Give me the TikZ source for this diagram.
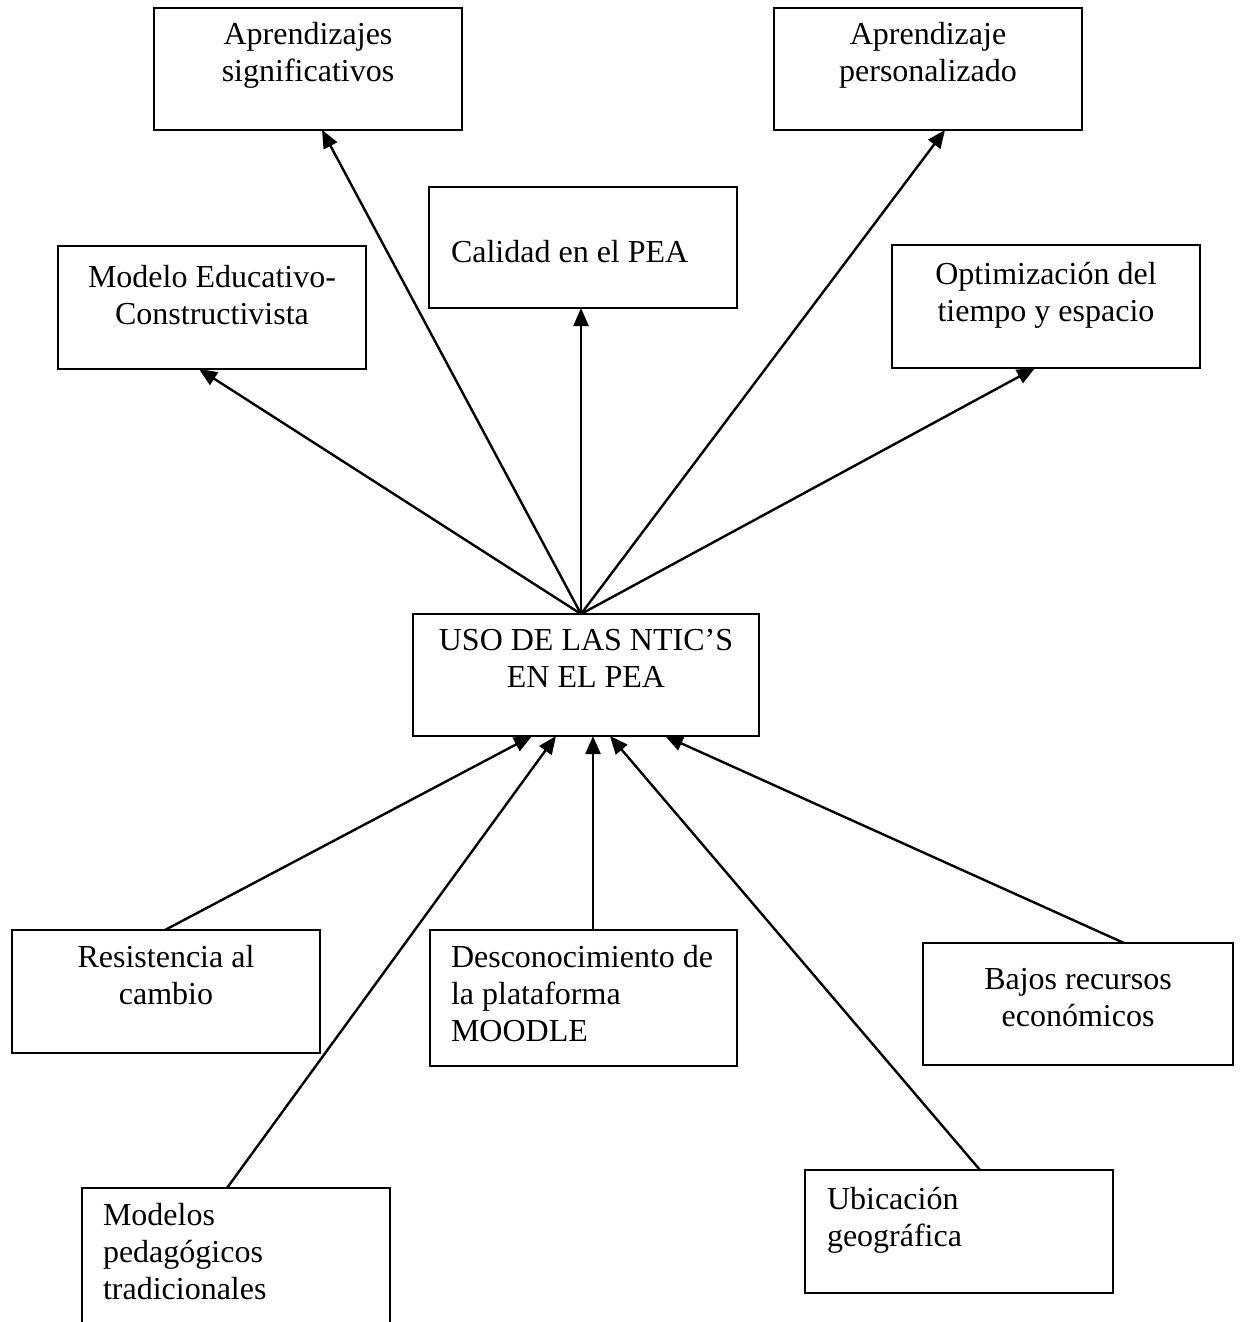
\documentclass[tikz,border=0pt]{standalone}
\usepackage{fontspec}
\setmainfont{Liberation Serif}
\usetikzlibrary{arrows.meta,calc}
\begin{document}
\begin{tikzpicture}[x=0.5pt,y=-0.5pt,
  box/.style={draw, line width=1.1pt, inner sep=0pt, outer sep=0pt, anchor=north west},
  txt/.style={font=\fontsize{16}{18.5}\selectfont, inner sep=0pt, outer sep=0pt, execute at begin node=\strut},
  ctxt/.style={txt, align=center, anchor=north},
  ltxt/.style={txt, align=left, anchor=north west},
  conn/.style={line width=1.2pt, -{Triangle[length=9pt,width=7.5pt]}}]
\useasboundingbox (0,0) rectangle (1242,1322);
\fill[white] (0,0) rectangle (1242,1322);
\clip (0,0) rectangle (1242,1322);
% boxes
\node[box, minimum width=154pt, minimum height=61pt] (as) at (154,8) {};
\node[box, minimum width=154pt, minimum height=61pt] (ap) at (774,8) {};
\node[box, minimum width=154pt, minimum height=60.5pt] (cal) at (429,187) {};
\node[box, minimum width=154pt, minimum height=61.5pt] (mod) at (58,246) {};
\node[box, minimum width=154pt, minimum height=61.5pt] (opt) at (892,245) {};
\node[box, minimum width=173pt, minimum height=61pt] (c) at (413,614) {};
\node[box, minimum width=154pt, minimum height=61.5pt] (res) at (12,930) {};
\node[box, minimum width=153.5pt, minimum height=68pt] (des) at (430,930) {};
\node[box, minimum width=155pt, minimum height=61pt] (baj) at (923,943) {};
\node[box, minimum width=154pt, minimum height=100pt] (mp) at (82,1188) {};
\node[box, minimum width=154pt, minimum height=61.5pt] (ub) at (805,1170) {};
% texts
\node[ctxt] (as-t) at (308,22) {Aprendizajes\\significativos};
\node[ctxt] (ap-t) at (928,22) {Aprendizaje\\personalizado};
\node[ltxt] (cal-t) at (451,237) {Calidad en el PEA};
\node[ctxt] (mod-t) at (212,265) {Modelo Educativo-\\Constructivista};
\node[ctxt] (opt-t) at (1046,262) {Optimización del\\tiempo y espacio};
\node[ctxt] (c-t) at (586,629) {USO DE LAS NTIC’S\\EN EL PEA};
\node[ctxt] (res-t) at (166,945) {Resistencia al\\cambio};
\node[ltxt] (des-t) at (451,945) {Desconocimiento de\\la plataforma\\MOODLE};
\node[ctxt] (baj-t) at (1078,968) {Bajos recursos\\económicos};
\node[ltxt] (mp-t) at (103,1203) {Modelos\\pedagógicos\\tradicionales};
\node[ltxt] (ub-t) at (827,1187) {Ubicación\\geográfica};
% connectors: effects
\draw[conn] ($(c.north west)+(168,0)$) -- ($(as.south west)+(168,0)$);
\draw[conn] ($(c.north west)+(168,0)$) -- ($(cal.south west)+(152,0)$);
\draw[conn] ($(c.north west)+(168,0)$) -- ($(ap.south west)+(171,0)$);
\draw[conn] ($(c.north west)+(168,0)$) -- ($(mod.south west)+(141,0)$);
\draw[conn] ($(c.north west)+(168,0)$) -- ($(opt.south west)+(143,0)$);
% connectors: causes
\draw[conn] ($(res.north west)+(153,0)$) -- ($(c.south west)+(119,0)$);
\draw[conn] ($(mp.north west)+(145,0)$) -- ($(c.south west)+(143,0)$);
\draw[conn] ($(des.north west)+(163,0)$) -- ($(c.south west)+(180,0)$);
\draw[conn] ($(ub.north west)+(175,0)$) -- ($(c.south west)+(197,0)$);
\draw[conn] ($(baj.north west)+(201,0)$) -- ($(c.south west)+(252,0)$);
\end{tikzpicture}
\end{document}
